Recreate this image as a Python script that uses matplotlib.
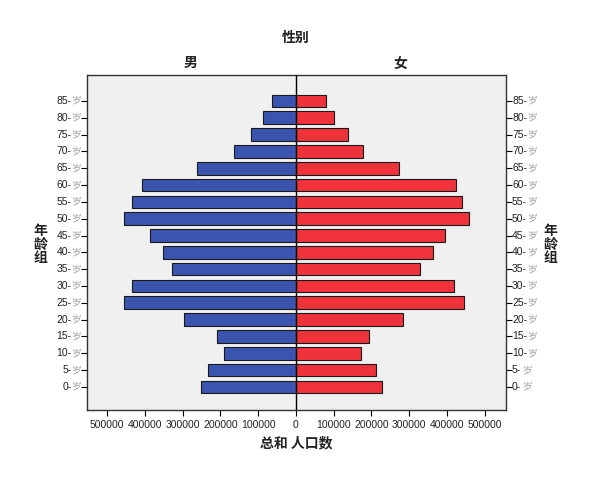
import numpy as np
import matplotlib.pyplot as plt

plt.rcParams['font.family'] = ['Noto Sans CJK SC', 'DejaVu Sans']

ages = ['0-', '5-', '10-', '15-', '20-', '25-', '30-', '35-', '40-',
        '45-', '50-', '55-', '60-', '65-', '70-', '75-', '80-', '85-']
male = [250000, 233000, 191000, 208000, 296000, 454000, 435000, 329000, 353000,
        386000, 455000, 435000, 407000, 262000, 164000, 120000, 88000, 64000]
female = [229000, 211000, 172000, 193000, 283000, 444000, 420000, 328000, 362000,
          396000, 458000, 441000, 425000, 272000, 179000, 138000, 102000, 79000]
xticks = [-500000, -400000, -300000, -200000, -100000, 0,
          100000, 200000, 300000, 400000, 500000]

num_font = ['Liberation Sans', 'DejaVu Sans']
fs = 7.5


def main():
    fig = plt.figure(figsize=(6, 4.8), dpi=100)
    ax = fig.add_axes([0.145, 0.146, 0.698, 0.698])
    ax.set_facecolor('#f0f0f0')

    y = np.arange(len(ages))
    ax.barh(y, -np.array(male), height=0.75, color='#3a55b0',
            edgecolor='#1a1a1a', linewidth=0.8, zorder=2)
    ax.barh(y, female, height=0.75, color='#f0323a',
            edgecolor='#1a1a1a', linewidth=0.8, zorder=2)
    ax.axvline(0, color='black', linewidth=1, zorder=3)

    ax.set_xlim(-553000, 556000)
    ax.set_ylim(-1.37, 18.55)

    ax.set_xticks(xticks)
    ax.set_xticklabels([str(abs(v)) for v in xticks], fontsize=fs,
                       color='#222222', family=num_font)
    ax.tick_params(axis='x', direction='out', length=4, width=0.8, pad=3)

    # y ticks on both sides, labels drawn by hand (number dark, 岁 gray)
    ax.set_yticks(y)
    ax.set_yticklabels([])
    ax.tick_params(axis='y', left=True, right=True, direction='out',
                   length=4, width=0.8)
    for i, a in enumerate(ages):
        w = fs * (0.556 * (len(a) - 1) + 0.333)
        ax.annotate('岁', xy=(0, i), xycoords=('axes fraction', 'data'),
                    xytext=(-4.5, 0), textcoords='offset points',
                    ha='right', va='center', fontsize=fs - 0.5, color='#a0a0a0')
        ax.annotate(a, xy=(0, i), xycoords=('axes fraction', 'data'),
                    xytext=(-11, 0), textcoords='offset points',
                    ha='right', va='center', fontsize=fs, color='#222222',
                    family=num_font)
        ax.annotate(a, xy=(1, i), xycoords=('axes fraction', 'data'),
                    xytext=(4.5, 0), textcoords='offset points',
                    ha='left', va='center', fontsize=fs, color='#222222',
                    family=num_font)
        ax.annotate('岁', xy=(1, i), xycoords=('axes fraction', 'data'),
                    xytext=(4.5 + w + 0.3, 0), textcoords='offset points',
                    ha='left', va='center', fontsize=fs - 0.5, color='#a0a0a0')

    for s in ax.spines.values():
        s.set_linewidth(1)
        s.set_color('#333333')

    fig.text(0.493, 0.92, '性别', ha='center', va='center', fontsize=10,
             fontweight='bold', color='#222222')
    fig.text(0.318, 0.868, '男', ha='center', va='center', fontsize=10,
             fontweight='bold', color='#222222')
    fig.text(0.668, 0.868, '女', ha='center', va='center', fontsize=10,
             fontweight='bold', color='#222222')
    fig.text(0.493, 0.077, '总和 人口数', ha='center', va='center', fontsize=10,
             fontweight='bold', color='#222222')
    fig.text(0.068, 0.49, '年\n龄\n组', ha='center', va='center', fontsize=10,
             fontweight='bold', color='#222222', linespacing=0.95)
    fig.text(0.918, 0.49, '年\n龄\n组', ha='center', va='center', fontsize=10,
             fontweight='bold', color='#222222', linespacing=0.95)

    fig.savefig('out.png', dpi=100, facecolor='white')


if __name__ == "__main__":
    main()
